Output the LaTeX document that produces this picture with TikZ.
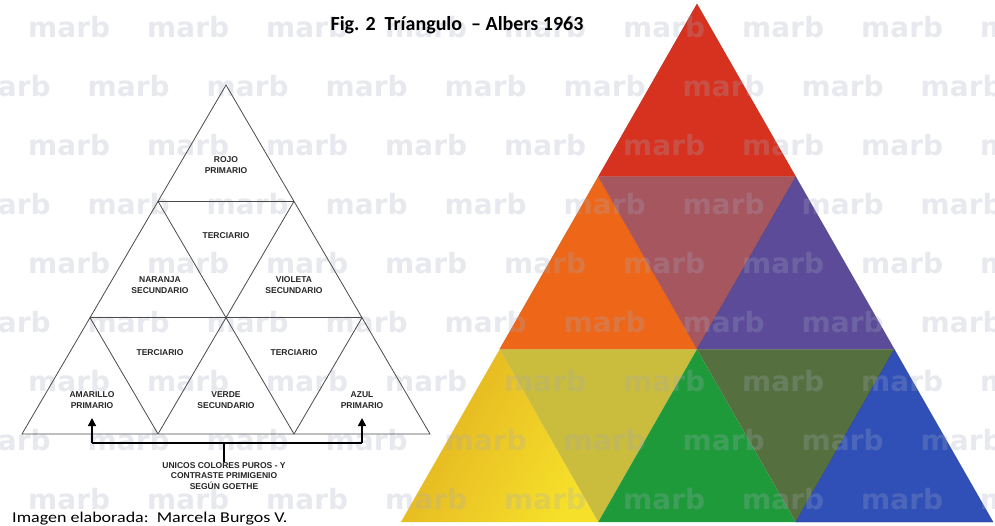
\documentclass[tikz,border=0pt]{standalone}
\usepackage{fontspec}
\setmainfont{Carlito}
\newfontfamily\labfont{Liberation Sans}
\newfontfamily\wmfont{DejaVu Sans}
\usetikzlibrary{arrows.meta}
\definecolor{cred}{HTML}{D6321F}
\definecolor{cmauve}{HTML}{A6565F}
\definecolor{corange}{HTML}{EE6618}
\definecolor{cpurple}{HTML}{5C4B98}
\definecolor{cyellow}{HTML}{F6E02A}
\definecolor{cyellowd}{HTML}{E2B020}
\definecolor{colive}{HTML}{CABC3C}
\definecolor{cgreen}{HTML}{1F9A3A}
\definecolor{cdolive}{HTML}{566F3F}
\definecolor{cblue}{HTML}{3050B8}
\definecolor{wm}{HTML}{A3ABC1}
\definecolor{dline}{HTML}{4A4A4A}
\tikzset{
  lab/.style={font=\labfont\bfseries\fontsize{8.5}{10.5}\selectfont, align=center, inner sep=0pt, text=black!85},
  gridline/.style={draw=dline, line width=0.8pt},
  wmark/.style={font=\wmfont\bfseries\fontsize{28}{28}\selectfont, text=wm, text opacity=0.25, anchor=base west, inner sep=0pt},
  bracket/.style={draw=black, line width=1.5pt},
  tip/.style={-{Triangle[length=8pt,width=8pt]}},
  cell/.style={line width=0.3pt}
}
\begin{document}
\begin{tikzpicture}[x=1pt,y=-1pt]
\useasboundingbox (0,0) rectangle (995,525);
\fill[white] (0,0) rectangle (995,525);
% ---------- colour triangle (Albers) ----------
\coordinate (R0) at (697,4);
\coordinate (R1l) at (598.3,176.7);
\coordinate (R1r) at (795.7,176.7);
\coordinate (R2l) at (499.7,349.3);
\coordinate (R2m) at (697,349.3);
\coordinate (R2r) at (894.3,349.3);
\coordinate (R3a) at (401,522);
\coordinate (R3b) at (598.3,522);
\coordinate (R3c) at (795.7,522);
\coordinate (R3d) at (993,522);
\fill[cred, draw=cred!80!black, cell] (R0) -- (R1l) -- (R1r) -- cycle;
\fill[corange, draw=corange!85!black, cell] (R1l) -- (R2l) -- (R2m) -- cycle;
\fill[cmauve] (R1l) -- (R1r) -- (R2m) -- cycle;
\fill[cpurple, draw=cpurple!80!black, cell] (R1r) -- (R2m) -- (R2r) -- cycle;
\shade[left color=cyellowd, right color=cyellow, shading angle=60] (R2l) -- (R3a) -- (R3b) -- cycle;
\fill[colive] (R2l) -- (R2m) -- (R3b) -- cycle;
\fill[cgreen] (R2m) -- (R3b) -- (R3c) -- cycle;
\fill[cdolive] (R2m) -- (R2r) -- (R3c) -- cycle;
\fill[cblue, draw=cblue!70!black, cell] (R2r) -- (R3c) -- (R3d) -- cycle;
% ---------- watermark ----------
\foreach \i in {0,...,8} {
  \pgfmathsetmacro{\yy}{37+59*\i}
  \pgfmathsetmacro{\xo}{mod(\i,2)==0 ? 28 : -31.5}
  \foreach \k in {0,...,8} {
    \node[wmark] (wm-\i-\k) at ({\xo+119*\k},\yy) {marb};
  }
}
% ---------- left diagram ----------
\coordinate (A) at (226,85);
\coordinate (B1) at (158,201.3);
\coordinate (C1) at (294,201.3);
\coordinate (B2) at (90,317.7);
\coordinate (M2) at (226,317.7);
\coordinate (C2) at (362,317.7);
\coordinate (D0) at (22,434);
\coordinate (D1) at (158,434);
\coordinate (D2) at (294,434);
\coordinate (D3) at (430,434);
\draw[gridline] (A) -- (D0) -- (D3) -- cycle;
\draw[gridline] (B1) -- (C1);
\draw[gridline] (B2) -- (C2);
\draw[gridline] (B1) -- (D2);
\draw[gridline] (C1) -- (D1);
\draw[gridline] (B2) -- (D1);
\draw[gridline] (C2) -- (D2);
\node[lab] (rojo) at (226,165) {ROJO\\PRIMARIO};
\node[lab] (ter1) at (226,236) {TERCIARIO};
\node[lab] (naranja) at (160,285) {NARANJA\\SECUNDARIO};
\node[lab] (violeta) at (294,285) {VIOLETA\\SECUNDARIO};
\node[lab] (ter2) at (160,353) {TERCIARIO};
\node[lab] (ter3) at (294,353) {TERCIARIO};
\node[lab] (amarillo) at (92,400) {AMARILLO\\PRIMARIO};
\node[lab] (verde) at (226,400) {VERDE\\SECUNDARIO};
\node[lab] (azul) at (362,400) {AZUL\\PRIMARIO};
\node[lab, anchor=north] (goethe) at (224,462) {UNICOS COLORES PUROS - Y\\CONTRASTE PRIMIGENIO\\SEGÚN GOETHE};
\coordinate (tipL) at (92,418);
\coordinate (tipR) at (362,418);
\coordinate (barC) at (224,443);
\draw[bracket] (goethe.north) -- (barC);
\draw[bracket] (92,443) -- (362,443);
\draw[bracket, tip] (92,443) -- (tipL);
\draw[bracket, tip] (362,443) -- (tipR);
% ---------- texts ----------
\node[font=\bfseries\fontsize{20}{20}\selectfont, anchor=base, inner sep=0pt] (title) at (457,30) {Fig. 2\ \ Tríangulo\ \ – Albers 1963};
\node[font=\fontsize{15}{15}\selectfont, anchor=base west, inner sep=0pt, xscale=1.2] (credit) at (12,522) {Imagen elaborada:\ \ Marcela Burgos V.};
\end{tikzpicture}
\end{document}
